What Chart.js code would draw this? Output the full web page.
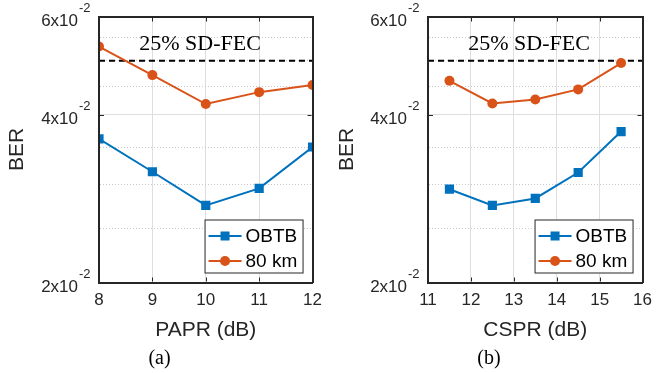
<!DOCTYPE html>
<html>
<head>
<meta charset="utf-8">
<script src="https://cdn.jsdelivr.net/npm/chart.js@4.4.0/dist/chart.umd.min.js"></script>
<style>
  html, body { margin: 0; padding: 0; background: #fff; }
  #wrap { display: flex; width: 660px; height: 373px; }
  canvas { display: block; }
</style>
</head>
<body>
<div id="wrap">
  <canvas id="papr" width="330" height="373"></canvas>
  <canvas id="cspr" width="330" height="373"></canvas>
</div>
<script>
/* BER vs PAPR / CSPR — two log-scale panels */

// (a) BER vs PAPR
const PAPR_DB   = [8, 9, 10, 11, 12];
const PAPR_OBTB = [3.62e-2, 3.16e-2, 2.75e-2, 2.95e-2, 3.50e-2];
const PAPR_80KM = [5.30e-2, 4.71e-2, 4.18e-2, 4.39e-2, 4.52e-2];

// (b) BER vs CSPR
const CSPR_DB   = [11.5, 12.5, 13.5, 14.5, 15.5];
const CSPR_OBTB = [2.94e-2, 2.75e-2, 2.83e-2, 3.15e-2, 3.73e-2];
const CSPR_80KM = [4.60e-2, 4.19e-2, 4.26e-2, 4.44e-2, 4.95e-2];

const SERIES_NAMES = ['OBTB', '80 km'];
const FEC_LIMIT = 5e-2;
const FEC_LABEL = '25% SD-FEC';

const BER_GRID = [0.02, 0.025, 0.03, 0.035, 0.04, 0.045, 0.05, 0.055, 0.06];
const BER_LABELED = [0.02, 0.04, 0.06];
const BER_MANTISSA = ['2x10', '4x10', '6x10'];
const BER_EXPONENT = ['-2', '-2', '-2'];

const BLUE = '#0072BD';
const ORANGE = '#D95319';
const INK = '#262626';
const GRID = '#dedede';
const SANS = "'Liberation Sans', Arial, sans-serif";
const SERIF = "'Liberation Serif', 'Times New Roman', serif";

Chart.defaults.font.family = SANS;
Chart.defaults.color = INK;

const labelIndex = v => BER_LABELED.findIndex(l => Math.abs(l - v) < 1e-9);

// FEC caption, in-axes legend, inward ticks and the x10^-2 style y labels
const overlayPlugin = {
  id: 'overlay',
  afterDatasetsDraw(chart) {
    const { ctx, chartArea: a, scales: { x, y } } = chart;
    ctx.save();
    ctx.font = '22px ' + SERIF;
    ctx.fillStyle = '#000';
    ctx.textAlign = 'center';
    ctx.textBaseline = 'middle';
    ctx.fillText(FEC_LABEL, a.left + 101, y.getPixelForValue(FEC_LIMIT) - 16);

    const bw = 99, bh = 54;
    const bx = a.right - 9 - bw, by = a.bottom - 9 - bh;
    ctx.fillStyle = '#fff';
    ctx.fillRect(bx, by, bw, bh);
    ctx.strokeStyle = INK;
    ctx.lineWidth = 1;
    ctx.strokeRect(bx + 0.5, by + 0.5, bw - 1, bh - 1);
    [0, 1].forEach(i => {
      const ds = chart.data.datasets[i];
      const cy = by + 16.5 + i * 25;
      ctx.strokeStyle = ds.borderColor;
      ctx.lineWidth = 2;
      ctx.beginPath();
      ctx.moveTo(bx + 4, cy);
      ctx.lineTo(bx + 37, cy);
      ctx.stroke();
      ctx.fillStyle = ds.borderColor;
      if (ds.pointStyle === 'rect') {
        ctx.fillRect(bx + 20.5 - 4.5, cy - 4.5, 9, 9);
      } else {
        ctx.beginPath();
        ctx.arc(bx + 20.5, cy, 5, 0, Math.PI * 2);
        ctx.fill();
      }
      ctx.fillStyle = '#000';
      ctx.textAlign = 'left';
      ctx.font = '19px ' + SANS;
      ctx.fillText(ds.label, bx + 41, cy + 1);
    });

    ctx.fillStyle = INK;
    x.ticks.forEach(t => {
      const px = Math.round(x.getPixelForValue(t.value));
      ctx.fillRect(px, a.bottom - 5, 1, 4);
      ctx.fillRect(px, a.top + 1, 1, 4);
    });
    BER_LABELED.forEach(v => {
      const py = Math.round(y.getPixelForValue(v));
      ctx.fillRect(a.left + 1, py, 4, 1);
      ctx.fillRect(a.right - 5, py, 4, 1);
    });

    BER_LABELED.forEach((v, i) => {
      const py = y.getPixelForValue(v);
      const split = a.left - 20;
      ctx.textAlign = 'right';
      ctx.font = '17px ' + SANS;
      ctx.fillText(BER_MANTISSA[i], split - 1, py + 4.5);
      ctx.textAlign = 'left';
      ctx.font = '13px ' + SANS;
      ctx.fillText(BER_EXPONENT[i], split, py - 8);
    });
    ctx.restore();
  }
};

const boxEdge = { display: true, color: INK, width: 2, z: 1 };

function makePanel(id, opt) {
  const pts = (xs, ys) => xs.map((x, i) => ({ x, y: ys[i] }));
  return new Chart(document.getElementById(id), {
    type: 'line',
    data: {
      datasets: [
        {
          label: SERIES_NAMES[0],
          data: pts(opt.xs, opt.obtb),
          borderColor: BLUE,
          backgroundColor: BLUE,
          borderWidth: 2,
          pointStyle: 'rect',
          pointRadius: 6.5,
          pointBorderWidth: 0,
          tension: 0,
        },
        {
          label: SERIES_NAMES[1],
          data: pts(opt.xs, opt.km80),
          borderColor: ORANGE,
          backgroundColor: ORANGE,
          borderWidth: 2,
          pointStyle: 'circle',
          pointRadius: 5,
          pointBorderWidth: 0,
          tension: 0,
        },
        {
          label: FEC_LABEL,
          data: [{ x: opt.xMin, y: FEC_LIMIT }, { x: opt.xMax, y: FEC_LIMIT }],
          borderColor: '#000',
          borderWidth: 2,
          borderDash: [6, 4],
          pointRadius: 0,
          tension: 0,
        }
      ]
    },
    options: {
      responsive: false,
      animation: false,
      layout: { padding: { top: 16.5, right: opt.padRight, left: 0, bottom: 0 } },
      plugins: {
        legend: { display: false },
        tooltip: { enabled: false },
        title: {
          display: true,
          position: 'bottom',
          text: opt.caption,
          color: '#000',
          font: { family: SERIF, size: 20, weight: 'normal' },
          padding: { top: 0, bottom: 2 }
        }
      },
      scales: {
        x: {
          type: 'linear',
          min: opt.xMin,
          max: opt.xMax,
          afterFit: s => { s.height = 64.5; },
          ticks: { stepSize: 1, padding: 8, font: { size: 17 }, color: INK },
          grid: { drawTicks: false, color: GRID, lineWidth: 1 },
          border: boxEdge,
          title: {
            display: true, text: opt.xTitle, color: INK,
            font: { size: 21 }, padding: { top: 0, bottom: 4 }
          }
        },
        xTop: {
          type: 'linear',
          position: 'top',
          min: opt.xMin,
          max: opt.xMax,
          afterFit: s => { s.height = 0; },
          ticks: { display: false },
          grid: { display: false },
          border: boxEdge
        },
        y: {
          type: 'logarithmic',
          min: 0.02,
          max: 0.06,
          afterBuildTicks: s => { s.ticks = BER_GRID.map(v => ({ value: v })); },
          afterFit: s => { s.width = opt.leftW; },
          ticks: { autoSkip: false, display: false },
          grid: {
            drawTicks: false,
            color: c => (c.tick && labelIndex(c.tick.value) < 0) ? '#c8c8c8' : GRID,
            lineWidth: 1
          },
          border: {
            display: true, color: INK, width: 2, z: 1,
            dash: c => (c.tick && labelIndex(c.tick.value) < 0) ? [1, 2] : []
          },
          title: {
            display: true, text: 'BER', color: INK,
            font: { size: 21 }, padding: { top: 5, bottom: 0 }
          }
        },
        yRight: {
          type: 'logarithmic',
          position: 'right',
          min: 0.02,
          max: 0.06,
          afterFit: s => { s.width = 0; },
          ticks: { display: false },
          grid: { display: false },
          border: boxEdge
        }
      }
    },
    plugins: [overlayPlugin]
  });
}

makePanel('papr', {
  xs: PAPR_DB, obtb: PAPR_OBTB, km80: PAPR_80KM,
  xMin: 8, xMax: 12, xTitle: 'PAPR (dB)', caption: '(a)',
  leftW: 99, padRight: 11
});

makePanel('cspr', {
  xs: CSPR_DB, obtb: CSPR_OBTB, km80: CSPR_80KM,
  xMin: 11, xMax: 16, xTitle: 'CSPR (dB)', caption: '(b)',
  leftW: 98, padRight: 12
});
</script>
</body>
</html>
